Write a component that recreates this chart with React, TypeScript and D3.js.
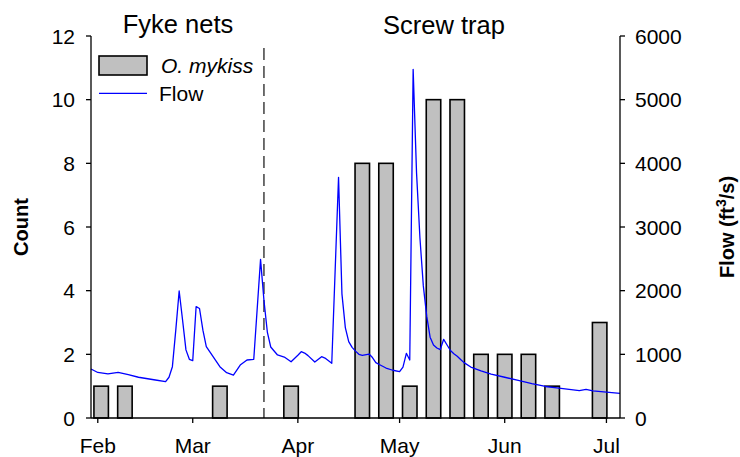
import React from 'react';
import * as d3 from 'd3';

const parse = d3.timeParse('%Y-%m-%d');

const domainStart = '2015-01-30';
const domainEnd = '2015-07-05';
const monthTickDates = ['2015-02-01', '2015-03-01', '2015-04-01', '2015-05-01', '2015-06-01', '2015-07-01'];
const monthLabels = ['Feb', 'Mar', 'Apr', 'May', 'Jun', 'Jul'];
const countTicks = [0, 2, 4, 6, 8, 10, 12];
const flowTicks = [0, 1000, 2000, 3000, 4000, 5000, 6000];
const dividerDate = '2015-03-22';

const weekDates = [
  '2015-02-02', '2015-02-09', '2015-02-16', '2015-02-23', '2015-03-02', '2015-03-09',
  '2015-03-16', '2015-03-23', '2015-03-30', '2015-04-06', '2015-04-13', '2015-04-20',
  '2015-04-27', '2015-05-04', '2015-05-11', '2015-05-18', '2015-05-25', '2015-06-01',
  '2015-06-08', '2015-06-15', '2015-06-22', '2015-06-29',
];
const mykissCounts = [1, 1, 0, 0, 0, 1, 0, 0, 1, 0, 0, 8, 8, 1, 10, 10, 2, 2, 2, 1, 0, 3];

const flowDates = [
  '2015-01-30', '2015-02-01', '2015-02-04', '2015-02-07', '2015-02-10', '2015-02-13',
  '2015-02-18', '2015-02-21', '2015-02-22', '2015-02-23', '2015-02-24', '2015-02-25',
  '2015-02-26', '2015-02-27', '2015-02-28', '2015-03-01', '2015-03-02', '2015-03-03',
  '2015-03-04', '2015-03-05', '2015-03-07', '2015-03-09', '2015-03-11', '2015-03-13',
  '2015-03-15', '2015-03-17', '2015-03-19', '2015-03-21', '2015-03-22', '2015-03-23',
  '2015-03-24', '2015-03-26', '2015-03-28', '2015-03-30', '2015-04-01', '2015-04-02',
  '2015-04-03', '2015-04-04', '2015-04-06', '2015-04-08', '2015-04-09', '2015-04-11',
  '2015-04-13', '2015-04-14', '2015-04-15', '2015-04-16', '2015-04-17', '2015-04-18',
  '2015-04-19', '2015-04-20', '2015-04-22', '2015-04-23', '2015-04-24', '2015-04-25',
  '2015-04-27', '2015-04-29', '2015-05-01', '2015-05-02', '2015-05-03', '2015-05-04',
  '2015-05-05', '2015-05-06', '2015-05-07', '2015-05-08', '2015-05-09', '2015-05-10',
  '2015-05-11', '2015-05-12', '2015-05-13', '2015-05-14', '2015-05-15', '2015-05-16',
  '2015-05-17', '2015-05-18', '2015-05-19', '2015-05-20', '2015-05-22', '2015-05-25',
  '2015-05-28', '2015-06-01', '2015-06-05', '2015-06-09', '2015-06-13', '2015-06-17',
  '2015-06-23', '2015-06-25', '2015-06-27', '2015-07-01', '2015-07-05',
];
const flowValues = [
  770, 715, 692, 718, 680, 640,
  597, 570, 640, 806, 1380, 1995,
  1540, 1070, 922, 900, 1750, 1720,
  1380, 1120, 963, 806, 711, 675,
  832, 911, 922, 2492, 1850, 1350,
  1115, 990, 958, 884, 985, 1041,
  1020, 980, 880, 963, 942, 860,
  3780, 1950, 1420, 1200, 1110, 1050,
  1000, 985, 1005, 950, 870, 840,
  785, 750, 727, 800, 1016, 911,
  5477, 3850, 2830, 2075, 1600, 1270,
  1147, 1100, 1075, 1236, 1147, 1060,
  1010, 970, 920, 870, 800, 740,
  690, 640, 590, 540, 495, 468,
  430, 450, 425, 408, 388,
];

const FONT = '"Liberation Sans", Arial, Helvetica, sans-serif';

export default function App() {
  const W = 740, H = 457;
  const left = 91, right = 620, top = 36, bottom = 418;

  const x = d3.scaleTime()
    .domain([parse(domainStart)!, parse(domainEnd)!])
    .range([left, right]);
  const yCount = d3.scaleLinear().domain([0, 12]).range([bottom, top]);
  const yFlow = d3.scaleLinear().domain([0, 6000]).range([bottom, top]);

  const step = x(parse(weekDates[1])!) - x(parse(weekDates[0])!);
  const barW = step * 0.61;

  const flowData = flowDates.map((d, i) => ({ date: parse(d)!, v: flowValues[i] }));
  const line = d3.line<{ date: Date; v: number }>()
    .x(d => x(d.date))
    .y(d => yFlow(d.v));

  const bars = weekDates
    .map((d, i) => ({ date: parse(d)!, c: mykissCounts[i] }))
    .filter(b => b.c > 0);

  const divX = x(parse(dividerDate)!);

  return (
    <svg width={W} height={H} style={{ position: 'absolute', left: 0, top: 0, background: '#fff' }}
      fontFamily={FONT}>
      {/* bars */}
      {bars.map((b, i) => (
        <rect key={i} x={x(b.date) - barW / 2} y={yCount(b.c)} width={barW}
          height={yCount(0) - yCount(b.c)} fill="#c0c0c0" stroke="#000" strokeWidth={1.6} />
      ))}
      {/* divider */}
      <line x1={divX} x2={divX} y1={48} y2={bottom} stroke="#333" strokeWidth={1.4}
        strokeDasharray="12,6" />
      {/* flow line */}
      <path d={line(flowData) || ''} fill="none" stroke="#0000ff" strokeWidth={1.3}
        strokeLinejoin="round" />

      {/* left axis */}
      <line x1={left} x2={left} y1={top} y2={bottom} stroke="#000" strokeWidth={1.3} />
      {countTicks.map(t => (
        <g key={'c' + t}>
          <line x1={left - 5} x2={left} y1={yCount(t)} y2={yCount(t)} stroke="#000" strokeWidth={1.3} />
          <text x={75} y={yCount(t) + 7.5} textAnchor="end" fontSize={21}>{t}</text>
        </g>
      ))}
      {/* right axis */}
      <line x1={right} x2={right} y1={top} y2={bottom} stroke="#000" strokeWidth={1.3} />
      {flowTicks.map(t => (
        <g key={'f' + t}>
          <line x1={right} x2={right + 5} y1={yFlow(t)} y2={yFlow(t)} stroke="#000" strokeWidth={1.3} />
          <text x={635} y={yFlow(t) + 7.5} textAnchor="start" fontSize={21}>{t}</text>
        </g>
      ))}
      {/* bottom axis */}
      <line x1={left} x2={right} y1={bottom} y2={bottom} stroke="#000" strokeWidth={1.3} />
      {monthTickDates.map((d, i) => (
        <g key={'m' + d}>
          <line x1={x(parse(d)!)} x2={x(parse(d)!)} y1={bottom} y2={bottom + 5} stroke="#000" strokeWidth={1.3} />
          <text x={x(parse(d)!)} y={453} textAnchor="middle" fontSize={21}>{monthLabels[i]}</text>
        </g>
      ))}

      {/* titles */}
      <text x={178} y={33} textAnchor="middle" fontSize={25.5}>Fyke nets</text>
      <text x={444} y={34} textAnchor="middle" fontSize={25.5}>Screw trap</text>

      {/* axis labels */}
      <text transform="translate(28,227) rotate(-90)" textAnchor="middle" fontSize={20} fontWeight="bold">Count</text>
      <text transform="translate(734,227) rotate(-90)" textAnchor="middle" fontSize={20} fontWeight="bold">
        Flow (ft<tspan dy={-8} fontSize={14}>3</tspan><tspan dy={8}>/s)</tspan>
      </text>

      {/* legend */}
      <rect x={99} y={56} width={48} height={19} fill="#c0c0c0" stroke="#000" strokeWidth={1.6} />
      <text x={161} y={73} fontSize={21} fontStyle="italic">O. mykiss</text>
      <line x1={99} x2={147} y1={93.3} y2={93.3} stroke="#0000ff" strokeWidth={1.3} />
      <text x={159} y={101} fontSize={21}>Flow</text>
    </svg>
  );
}
